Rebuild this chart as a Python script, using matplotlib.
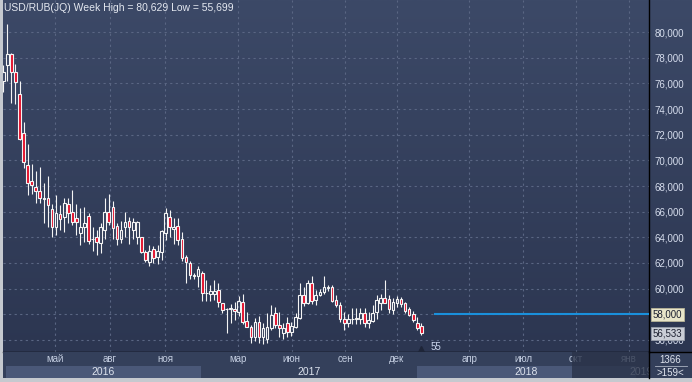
import numpy as np
import matplotlib.pyplot as plt
from matplotlib.patches import Rectangle
from matplotlib.colors import LinearSegmentedColormap
from matplotlib.lines import Line2D

plt.rcParams['font.family'] = ['Liberation Sans', 'DejaVu Sans']

# weekly USD/RUB candles (open, high, low, close)
opens = [76.2, 77.4, 78.3, 76.85, 75.2, 72.1, 69.6, 68.4, 67.9, 67.6,
         67.0, 67.05, 66.2, 64.8, 65.8, 65.6, 66.6, 66.0, 65.5, 64.3,
         64.8, 65.7, 63.85, 64.0, 63.55, 64.6, 65.95, 66.4, 64.9, 63.85,
         64.8, 65.3, 64.6, 64.0, 64.0, 62.85, 62.1, 63.1, 62.45, 62.85,
         64.3, 65.6, 64.65, 64.9, 63.9, 62.45, 62.0, 61.0, 61.0, 61.2,
         59.65, 59.6, 59.6, 59.9, 58.9, 58.4, 58.45, 58.4, 58.2, 58.95,
         57.5, 57.0, 56.25, 57.4, 56.2, 56.1, 56.9, 58.07, 57.17, 56.56,
         57.3, 56.64, 57.0, 57.7, 59.5, 58.9, 60.41, 59.1, 59.5, 59.7,
         60.05, 60.1, 59.1, 58.7, 57.6, 57.35, 57.6, 57.6, 57.6, 58.1,
         57.3, 57.5, 58.15, 58.9, 59.24, 59.16, 58.3, 58.85, 59.16, 58.85,
         58.38, 58.02, 57.34, 57.08]
highs = [77.4, 80.63, 78.4, 77.5, 76.2, 73.0, 71.3, 69.7, 69.2, 69.5,
         68.2, 68.8, 66.6, 67.3, 66.5, 67.1, 67.1, 67.7, 66.6, 66.3,
         66.35, 65.9, 64.8, 64.55, 65.1, 67.1, 67.4, 66.8, 65.1, 65.3,
         66.0, 65.55, 65.5, 65.3, 64.05, 63.0, 63.4, 63.3, 63.4, 64.55,
         66.3, 66.1, 65.5, 65.5, 64.4, 62.6, 62.15, 61.2, 61.75, 61.35,
         60.65, 60.3, 60.65, 60.4, 58.9, 58.5, 58.8, 58.95, 59.4, 59.6,
         58.2, 57.15, 57.7, 57.9, 57.3, 58.07, 58.7, 58.6, 58.2, 57.3,
         57.8, 57.4, 58.07, 60.46, 60.1, 60.7, 61.0, 59.9, 60.0, 60.95,
         60.3, 60.3, 59.5, 58.95, 58.2, 58.0, 58.5, 58.5, 58.5, 58.5,
         58.2, 58.7, 59.5, 59.55, 60.67, 59.5, 59.25, 59.4, 59.37, 58.98,
         58.55, 58.28, 57.81, 57.3]
lows = [75.3, 76.2, 74.5, 74.4, 71.6, 69.4, 67.3, 67.4, 66.7, 66.7,
        65.1, 64.8, 64.0, 64.2, 64.6, 64.4, 65.1, 64.95, 64.2, 63.4,
        63.6, 63.5, 62.9, 62.6, 62.8, 63.9, 64.95, 63.9, 63.4, 63.55,
        64.0, 63.5, 63.9, 63.5, 62.8, 62.1, 61.8, 62.0, 61.9, 62.2,
        63.8, 64.0, 63.5, 63.4, 62.15, 60.4, 60.75, 60.75, 60.1, 59.0,
        59.0, 59.0, 59.1, 58.55, 58.1, 56.55, 57.3, 57.55, 57.85, 57.25,
        57.0, 55.75, 55.9, 55.8, 55.7, 55.8, 56.8, 56.9, 56.26, 56.1,
        56.26, 56.3, 56.95, 57.6, 58.65, 58.8, 58.8, 58.75, 59.4, 59.6,
        59.8, 58.95, 58.55, 57.4, 56.8, 57.04, 57.25, 57.25, 57.25, 57.04,
        56.95, 57.4, 57.65, 58.35, 58.85, 58.08, 58.0, 58.6, 58.55, 58.1,
        57.86, 57.42, 56.77, 56.4]
closes = [76.9, 78.3, 76.9, 76.1, 71.7, 69.9, 68.2, 68.1, 67.6, 67.1,
          67.1, 66.5, 64.8, 65.9, 65.4, 66.7, 65.9, 65.2, 65.2, 64.8,
          65.1, 63.7, 63.9, 63.6, 64.8, 65.95, 65.2, 64.7, 63.9, 64.6,
          65.2, 64.8, 65.2, 65.2, 62.85, 62.2, 62.95, 62.4, 62.9, 64.5,
          65.9, 64.8, 64.8, 63.8, 62.4, 62.05, 61.05, 61.1, 61.5, 59.65,
          59.65, 59.8, 59.8, 58.95, 58.35, 58.4, 58.5, 58.25, 59.0, 57.4,
          57.0, 56.25, 57.4, 56.2, 56.9, 57.04, 57.95, 57.17, 56.9, 56.9,
          56.64, 57.1, 57.8, 59.5, 58.9, 60.41, 59.0, 59.5, 59.7, 60.1,
          60.1, 59.05, 58.7, 57.6, 57.35, 57.6, 57.65, 57.7, 58.1, 57.3,
          57.56, 58.1, 59.1, 59.25, 58.9, 58.38, 58.98, 59.16, 58.8, 58.28,
          57.94, 57.55, 56.9, 56.533]

# time axis (positions in bar units)
month_names = ['май', 'авг', 'ноя', 'мар', 'июн', 'сен', 'дек', 'апр', 'июл', 'окт', 'янв']
month_pos = [12.7, 26.3, 39.9, 57.8, 71.1, 84.2, 97.0, 114.8, 128.1, 141.1, 154.2]
year_names = ['2016', '2017', '2018', '2019']
year_edges = [0.7, 48.7, 101.9, 155.9, 158.3]

y_ticks = np.arange(56, 81, 2)
level_line = 58.0
last_close = closes[-1]

W, H = 692, 382
fig = plt.figure(figsize=(W / 100, H / 100), dpi=100)
fig.patch.set_facecolor('#c5c9cf')

def fx(px):
    return px / W

def fy(py):
    return 1 - py / H

# dark window body
bgax = fig.add_axes([fx(2.5), fy(378), 1 - fx(2.5), fy(0) - fy(378)])
bgax.set_facecolor('#333f5a')
bgax.set_xticks([]); bgax.set_yticks([])
for s in bgax.spines.values():
    s.set_visible(False)
bgax.set_zorder(0)

grad_cmap = LinearSegmentedColormap.from_list('bg', ['#2c3651', '#3c4967'])
grad = np.linspace(0, 1, 256).reshape(-1, 1)

# right price panel
rp = fig.add_axes([fx(649), fy(352), fx(692) - fx(649), fy(0) - fy(352)])
rp.imshow(grad, extent=[0, 1, 0, 1], origin='lower', aspect='auto', cmap=grad_cmap)
rp.axis('off')
rp.set_zorder(1)

# main price axes
ax = fig.add_axes([fx(2.5), fy(352), fx(649) - fx(2.5), fy(0) - fy(352)])
ax.set_zorder(2)
ax.patch.set_visible(False)
ax.imshow(grad, extent=[0, 1, 0, 1], origin='lower', aspect='auto', cmap=grad_cmap,
          transform=ax.transAxes, zorder=0)

x0 = -0.2
x1 = 159.1
ax.set_xlim(x0, x1)
ax.set_ylim(55.06, 82.5)

for v in y_ticks:
    ax.axhline(v, color='#5a6683', lw=0.8, ls=(0, (2, 3)), zorder=1)
for p in month_pos:
    ax.axvline(p, color='#5a6683', lw=0.8, ls=(0, (2, 3)), zorder=1)

bw = 0.66
for i in range(len(opens)):
    o, h, l, c = opens[i], highs[i], lows[i], closes[i]
    top = max(o, c)
    bot = min(o, c)
    ax.plot([i, i], [top, h], color='#f4f4f4', lw=0.8, solid_capstyle='butt', zorder=3)
    ax.plot([i, i], [l, bot], color='#f4f4f4', lw=0.8, solid_capstyle='butt', zorder=3)
    fc = '#e4102c' if c < o else 'none'
    ax.add_patch(Rectangle((i - bw / 2, bot), bw, max(top - bot, 0.02),
                           facecolor=fc, edgecolor='#f4f4f4', lw=0.8, zorder=4))

# level line and countdown mark
n = len(opens)
ax.hlines(level_line, n + 2, x1, color='#1a90dc', lw=1.5, zorder=5)
ax.plot([n - 1], [55.3], marker='^', ms=4, color='#1e2538', zorder=5)
ax.text(n + 1.2, 55.45, '55', color='#cdd8ee', fontsize=7, va='center', zorder=6)

ax.yaxis.tick_right()
ax.set_yticks(y_ticks)
# the 58 label sits under the level tag, so it is left blank
ax.set_yticklabels(['' if v == level_line else ('%.3f' % v).replace('.', ',') for v in y_ticks])
ax.tick_params(axis='y', length=0, pad=4, labelsize=7, labelcolor='#d6dded')
ax.set_xticks([])
for side in ['top', 'left']:
    ax.spines[side].set_visible(False)
ax.spines['right'].set_color('black')
ax.spines['bottom'].set_color('black')
ax.spines['right'].set_linewidth(1.0)
ax.spines['bottom'].set_linewidth(1.0)

# price tags on the right
tr = ax.get_yaxis_transform()
ax.text(1.006, level_line, ('%.3f' % level_line).replace('.', ','), transform=tr,
        fontsize=7, color='#1c2030', va='center', ha='left', zorder=7,
        bbox=dict(boxstyle='square,pad=0.15', facecolor='#e8e5c9', edgecolor='#b9b598', lw=0.6),
        clip_on=False)
ax.text(1.006, last_close, ('%.3f' % last_close).replace('.', ','), transform=tr,
        fontsize=7, color='#1c2030', va='center', ha='left', zorder=7,
        bbox=dict(boxstyle='square,pad=0.15', facecolor='#c9cdd6', edgecolor='#9aa0ac', lw=0.6),
        clip_on=False)

# title
fig.text(fx(4), fy(8), 'USD/RUB(JQ) Week High = 80,629 Low = 55,699',
         fontsize=7.5, color='#e4e8f0', va='center', ha='left', zorder=10)

# bottom time axis
bx = fig.add_axes([fx(2.5), fy(378), fx(649) - fx(2.5), fy(352) - fy(378)])
bx.set_zorder(2)
bx.set_facecolor('#34405b')
bx.set_xlim(x0, x1)
bx.set_ylim(0, 1)
bx.set_xticks([]); bx.set_yticks([])
for s in bx.spines.values():
    s.set_visible(False)
for k in range(len(year_names)):
    col = '#4a5878' if k % 2 == 0 else '#34405b'
    bx.axvspan(year_edges[k], year_edges[k + 1], ymin=0, ymax=0.46, color=col, lw=0, zorder=1)
    bx.text((year_edges[k] + year_edges[k + 1]) / 2, 0.23, year_names[k], fontsize=7.5,
            color='#dde3ee', ha='center', va='center', zorder=2, clip_on=True)
for name, p in zip(month_names, month_pos):
    bx.text(p, 0.73, name, fontsize=7, color='#c3cde0', ha='center', va='center', zorder=2)
# greyed-out future section
bx.axvspan(140.1, x1, color='#2a3349', alpha=0.8, lw=0, zorder=3)

# bottom-right counter box
fig.text(fx(670), fy(360), '1366', fontsize=7, color='#dfe4ee', ha='center', va='center', zorder=10)
fig.text(fx(670), fy(373), '>159<', fontsize=7, color='#dfe4ee', ha='center', va='center', zorder=10)
fig.add_artist(Line2D([fx(655), fx(687)], [fy(366), fy(366)], color='#aab2c2', lw=0.6, zorder=10))
fig.add_artist(Line2D([fx(649), fx(692)], [fy(352), fy(352)], color='black', lw=1.0, zorder=10))
fig.add_artist(Line2D([fx(649), fx(649)], [fy(378), fy(352)], color='black', lw=1.0, zorder=10))

fig.savefig('out.png', dpi=100, facecolor=fig.get_facecolor())
